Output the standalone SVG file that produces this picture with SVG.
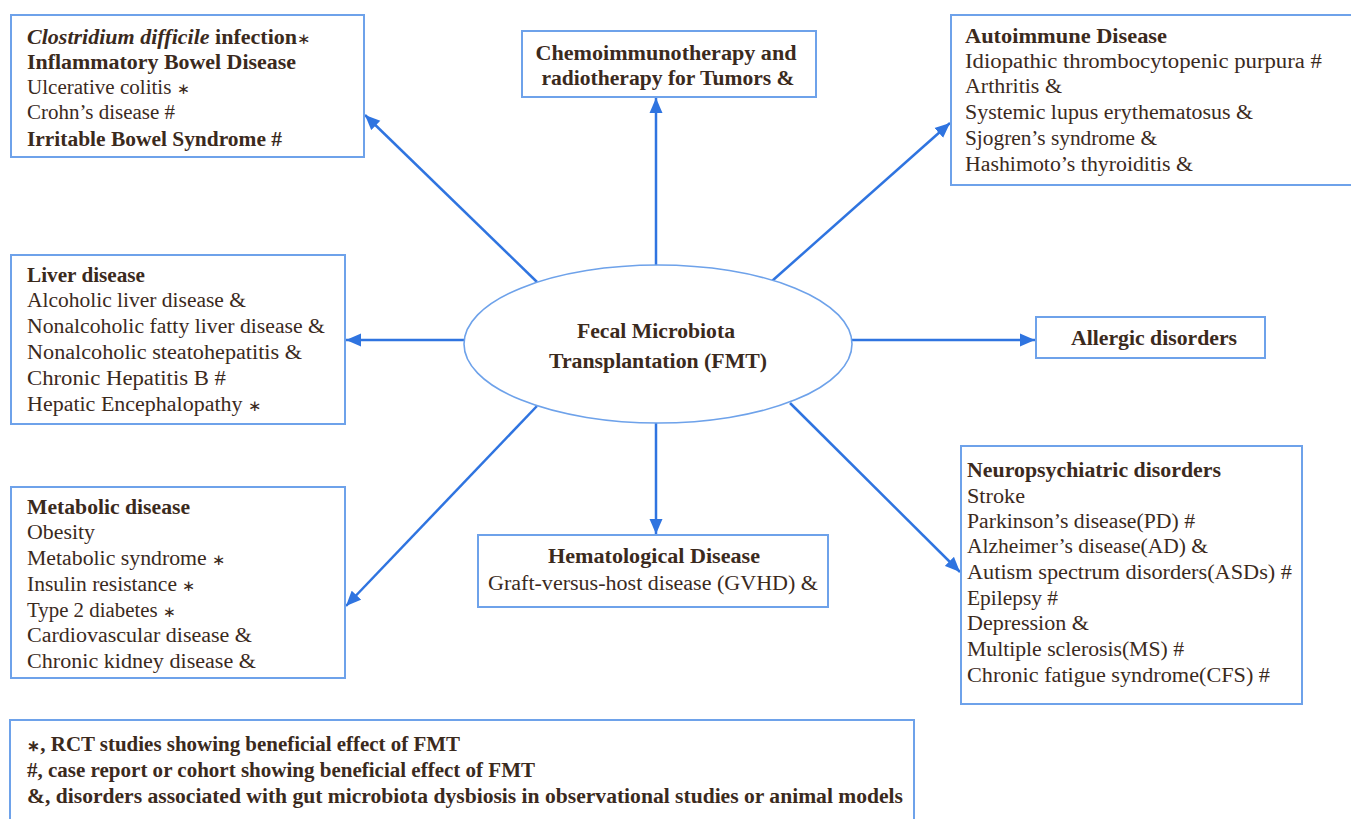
<svg xmlns="http://www.w3.org/2000/svg" width="1351" height="819" viewBox="0 0 1351 819">
<defs>
<style>
.box{fill:#fff;stroke:#6ea2ea;stroke-width:2}
.ell{fill:#fff;stroke:#6ea2ea;stroke-width:1.6}
text{font-family:"Liberation Serif","Times New Roman",serif;font-size:20.5px;fill:#3b2a1d}
.b{font-weight:bold}
.i{font-style:italic}
.c{text-anchor:middle}
.s{font-size:15px}
.arr{stroke:#2f74e0;stroke-width:2.5;fill:none;marker-end:url(#ah)}
</style>
<marker id="ah" markerUnits="userSpaceOnUse" markerWidth="16" markerHeight="14" refX="15" refY="6.5" orient="auto" viewBox="0 0 16 13">
<path d="M0,0 L15,6.5 L0,13 z" fill="#2f74e0"/>
</marker>
</defs>
<rect width="1351" height="819" fill="#fff"/>

<g id="connectors">
<line class="arr" x1="537" y1="282" x2="365" y2="115"/>
<line class="arr" x1="656" y1="265" x2="656" y2="98"/>
<line class="arr" x1="772" y1="281" x2="950" y2="123"/>
<line class="arr" x1="464" y1="340" x2="346" y2="340"/>
<line class="arr" x1="852" y1="340" x2="1035" y2="340"/>
<line class="arr" x1="537" y1="406" x2="346" y2="606"/>
<line class="arr" x1="656" y1="423" x2="656" y2="534"/>
<line class="arr" x1="790" y1="403" x2="960" y2="572"/>
</g>

<g id="fmt">
<ellipse class="ell" cx="658" cy="344" rx="194" ry="79"/>
<text class="b c" x="656" y="338" textLength="158" lengthAdjust="spacingAndGlyphs">Fecal Microbiota</text>
<text class="b c" x="658" y="368" textLength="218" lengthAdjust="spacingAndGlyphs">Transplantation (FMT)</text>
</g>

<g id="gi">
<rect class="box" x="11" y="15" width="353" height="142"/>
<text x="27" y="44" textLength="284" lengthAdjust="spacingAndGlyphs"><tspan class="b i">Clostridium difficile</tspan><tspan class="b"> infection</tspan><tspan class="s">∗</tspan></text>
<text class="b" x="27" y="69" textLength="269" lengthAdjust="spacingAndGlyphs">Inflammatory Bowel Disease</text>
<text x="27" y="94" textLength="163" lengthAdjust="spacingAndGlyphs">Ulcerative colitis <tspan class="s">∗</tspan></text>
<text x="27" y="119" textLength="148" lengthAdjust="spacingAndGlyphs">Crohn’s disease #</text>
<text class="b" x="27" y="146" textLength="255" lengthAdjust="spacingAndGlyphs">Irritable Bowel Syndrome #</text>
</g>

<g id="tumor">
<rect class="box" x="522" y="31" width="294" height="66"/>
<text class="b c" x="666" y="60" textLength="261" lengthAdjust="spacingAndGlyphs">Chemoimmunotherapy and</text>
<text class="b c" x="668" y="85" textLength="253" lengthAdjust="spacingAndGlyphs">radiotherapy for Tumors &amp;</text>
</g>

<g id="autoimmune">
<rect class="box" x="951" y="15" width="410" height="170"/>
<text class="b" x="965" y="43" textLength="202" lengthAdjust="spacingAndGlyphs">Autoimmune Disease</text>
<text x="965" y="68" textLength="357" lengthAdjust="spacingAndGlyphs">Idiopathic thrombocytopenic purpura #</text>
<text x="965" y="93" textLength="97" lengthAdjust="spacingAndGlyphs">Arthritis &amp;</text>
<text x="965" y="119" textLength="288" lengthAdjust="spacingAndGlyphs">Systemic lupus erythematosus &amp;</text>
<text x="965" y="145" textLength="192" lengthAdjust="spacingAndGlyphs">Sjogren’s syndrome &amp;</text>
<text x="965" y="171" textLength="228" lengthAdjust="spacingAndGlyphs">Hashimoto’s thyroiditis &amp;</text>
</g>

<g id="liver">
<rect class="box" x="11" y="255" width="334" height="169"/>
<text class="b" x="27" y="282" textLength="118" lengthAdjust="spacingAndGlyphs">Liver disease</text>
<text x="27" y="307" textLength="219" lengthAdjust="spacingAndGlyphs">Alcoholic liver disease &amp;</text>
<text x="27" y="333" textLength="298" lengthAdjust="spacingAndGlyphs">Nonalcoholic fatty liver disease &amp;</text>
<text x="27" y="359" textLength="275" lengthAdjust="spacingAndGlyphs">Nonalcoholic steatohepatitis &amp;</text>
<text x="27" y="385" textLength="199" lengthAdjust="spacingAndGlyphs">Chronic Hepatitis B #</text>
<text x="27" y="411" textLength="235" lengthAdjust="spacingAndGlyphs">Hepatic Encephalopathy <tspan class="s">∗</tspan></text>
</g>

<g id="allergic">
<rect class="box" x="1036" y="317" width="229" height="41"/>
<text class="b" x="1071" y="345" textLength="166" lengthAdjust="spacingAndGlyphs">Allergic disorders</text>
</g>

<g id="metabolic">
<rect class="box" x="11" y="487" width="334" height="191"/>
<text class="b" x="27" y="514" textLength="163" lengthAdjust="spacingAndGlyphs">Metabolic disease</text>
<text x="27" y="539" textLength="68" lengthAdjust="spacingAndGlyphs">Obesity</text>
<text x="27" y="565" textLength="199" lengthAdjust="spacingAndGlyphs">Metabolic syndrome <tspan class="s">∗</tspan></text>
<text x="27" y="591" textLength="169" lengthAdjust="spacingAndGlyphs">Insulin resistance <tspan class="s">∗</tspan></text>
<text x="27" y="617" textLength="149" lengthAdjust="spacingAndGlyphs">Type 2 diabetes <tspan class="s">∗</tspan></text>
<text x="27" y="642" textLength="225" lengthAdjust="spacingAndGlyphs">Cardiovascular disease &amp;</text>
<text x="27" y="668" textLength="229" lengthAdjust="spacingAndGlyphs">Chronic kidney disease &amp;</text>
</g>

<g id="hematological">
<rect class="box" x="478" y="535" width="350" height="72"/>
<text class="b c" x="654" y="563" textLength="212" lengthAdjust="spacingAndGlyphs">Hematological Disease</text>
<text class="c" x="653" y="590" textLength="330" lengthAdjust="spacingAndGlyphs">Graft-versus-host disease (GVHD) &amp;</text>
</g>

<g id="neuro">
<rect class="box" x="961" y="446" width="341" height="258"/>
<text class="b" x="967" y="477" textLength="254" lengthAdjust="spacingAndGlyphs">Neuropsychiatric disorders</text>
<text x="967" y="503" textLength="58" lengthAdjust="spacingAndGlyphs">Stroke</text>
<text x="967" y="528" textLength="228" lengthAdjust="spacingAndGlyphs">Parkinson’s disease(PD) #</text>
<text x="967" y="553" textLength="241" lengthAdjust="spacingAndGlyphs">Alzheimer’s disease(AD) &amp;</text>
<text x="967" y="579" textLength="325" lengthAdjust="spacingAndGlyphs">Autism spectrum disorders(ASDs) #</text>
<text x="967" y="605" textLength="91" lengthAdjust="spacingAndGlyphs">Epilepsy #</text>
<text x="967" y="630" textLength="122" lengthAdjust="spacingAndGlyphs">Depression &amp;</text>
<text x="967" y="656" textLength="217" lengthAdjust="spacingAndGlyphs">Multiple sclerosis(MS) #</text>
<text x="967" y="682" textLength="303" lengthAdjust="spacingAndGlyphs">Chronic fatigue syndrome(CFS) #</text>
</g>

<g id="legend">
<rect class="box" x="10" y="720" width="904" height="110"/>
<text class="b" x="27" y="751" textLength="433" lengthAdjust="spacingAndGlyphs"><tspan class="s">∗</tspan>, RCT studies showing beneficial effect of FMT</text>
<text class="b" x="27" y="777" textLength="508" lengthAdjust="spacingAndGlyphs">#, case report or cohort showing beneficial effect of FMT</text>
<text class="b" x="27" y="803" textLength="876" lengthAdjust="spacingAndGlyphs">&amp;, disorders associated with gut microbiota dysbiosis in observational studies or animal models</text>
</g>
</svg>
